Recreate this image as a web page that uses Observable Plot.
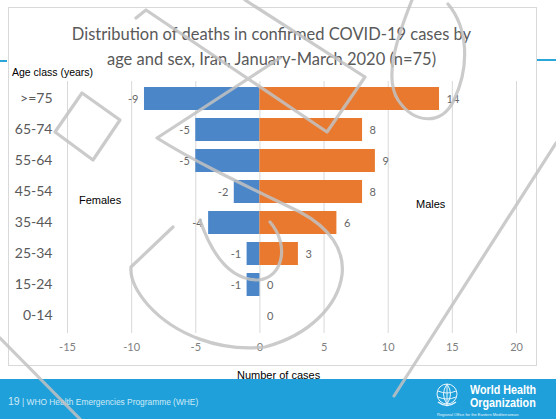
<!DOCTYPE html>
<html>
<head>
<meta charset="utf-8">
<script src="https://cdn.jsdelivr.net/npm/d3@7"></script>
<script src="https://cdn.jsdelivr.net/npm/@observablehq/plot@0.6"></script>
<style>
  html, body { margin: 0; padding: 0; background: #fff; }
  #slide { position: relative; width: 556px; height: 419px; overflow: hidden; background: #fff;
           font-family: "Liberation Sans", Arial, sans-serif; }
  .abs { position: absolute; white-space: nowrap; line-height: 1; }
  #box { left: 8px; top: 7px; width: 527px; height: 357px; border: 1px solid #d9d9d9; }
  .rule { position: absolute; height: 2px; background: #2ba6d8; }
  #title { left: 0; width: 543px; top: 22px; text-align: center; font-family: Lato, "Open Sans", sans-serif;
           font-size: 16.5px; line-height: 25px; color: #595959; }
  #plot { position: absolute; left: 0; top: 0; }
  .note { font-size: 11px; color: #000; }
  #footer { position: absolute; left: 0; top: 379px; width: 556px; height: 40px; background: #1fa0da; }
  #footText { left: 8px; top: 17px; font-size: 8.4px; color: #cfeaf7; }
  #footText b { font-size: 10.5px; font-weight: normal; }
  #who1, #who2 { left: 470px; font-weight: bold; color: #fff; font-size: 12.5px; transform: scaleX(0.86); transform-origin: left; }
  #who1 { top: 4.5px; } #who2 { top: 18px; }
  #who3 { left: 437px; top: 34px; font-size: 4px; color: #e6f4fb; }
  #mark { position: absolute; left: 0; top: 0; pointer-events: none; }
</style>
</head>
<body>
<div id="slide">
  <div class="rule" style="left:0;top:60px;width:7px;"></div>
  <div class="rule" style="left:537px;top:59px;width:19px;"></div>
  <div id="box" class="abs"></div>
  <div id="title" class="abs">Distribution of deaths in confirmed COVID-19 cases by<br>age and sex, Iran, January-March 2020 (n=75)</div>
  <div id="plot"></div>
  <div class="abs note" style="left:12px;top:67px;font-size:10.5px;">Age class (years)</div>
  <div class="abs note" style="left:79px;top:195px;">Females</div>
  <div class="abs note" style="left:416px;top:199px;">Males</div>
  <div class="abs note" style="left:237px;top:370px;">Number of cases</div>
  <div id="footer">
    <div id="footText" class="abs"><b>19</b> | WHO Health Emergencies Programme (WHE)</div>
    <svg style="position:absolute;left:435px;top:3px;" width="24" height="28" viewBox="0 0 24 28">
      <g fill="none" stroke="#e8f5fc" stroke-width="1">
        <ellipse cx="12" cy="12" rx="10" ry="10"/>
        <path d="M12 2 V23 M3 9 Q12 13 21 9 M3 15 Q12 19 21 15 M12 2 Q5 12 12 22 M12 2 Q19 12 12 22"/>
        <path d="M3 20 Q12 27 21 20" stroke-width="1.4"/>
      </g>
    </svg>
    <div id="who1" class="abs">World Health</div>
    <div id="who2" class="abs">Organization</div>
    <div id="who3" class="abs">Regional Office for the Eastern Mediterranean</div>
  </div>
  <!-- hand-drawn watermark strokes over the slide -->
  <svg id="mark" width="556" height="419" viewBox="0 0 556 419">
    <g fill="none" stroke="#c2c2c2" stroke-width="3.2" stroke-linejoin="round" stroke-linecap="round" opacity="0.85">
      <path d="M82,93 L120,120 L93,160 L55,132 Z"/>
      <path d="M136,18 L146,10 L327,132 L365,77 L245,0"/>
      <path d="M280,58 L157,138 C200,165 255,190 300,212 C330,228 345,250 342,275 C338,305 310,335 265,347 C220,352 175,335 148,305 C135,290 130,278 131,267 L173,227"/>
      <path d="M200,220 C212,255 230,280 258,280 C283,278 290,245 270,222"/>
      <path d="M412,0 C396,40 384,78 398,100 C414,124 442,126 454,100 C470,66 468,28 448,4"/>
      <path d="M556,143 L394,396"/>
      <path d="M0,338 L80,419"/>
    </g>
  </svg>
</div>
<script>
// Deaths among confirmed COVID-19 cases, Iran, Jan–Mar 2020, by age class and sex.
// Female counts are stored as negatives so they extend to the left of zero.
const ageClasses = [">=75", "65-74", "55-64", "45-54", "35-44", "25-34", "15-24", "0-14"];
const femaleDeaths = [-9, -5, -5, -2, -4, -1, -1, 0];
const maleDeaths = [14, 8, 9, 8, 6, 3, 0, 0];
const xTicks = [-15, -10, -5, 0, 5, 10, 15, 20];
const sexes = ["Females", "Males"];
const sexColors = ["#4a86c8", "#e9792f"];

const rows = ageClasses.flatMap((age, i) => [
  {age, sex: "Females", value: femaleDeaths[i]},
  {age, sex: "Males", value: maleDeaths[i]}
]);
const femaleRows = rows.filter(d => d.sex === "Females" && d.value !== 0);
const maleRows = rows.filter(d => d.sex === "Males");

const labelFont = "Lato, 'Open Sans', sans-serif";

const chart = Plot.plot({
  width: 556,
  height: 380,
  marginLeft: 67,
  marginRight: 40,
  marginTop: 81,
  marginBottom: 47,
  style: {background: "transparent", fontFamily: labelFont},
  x: {domain: [-15, 20], label: null},
  y: {domain: ageClasses, paddingInner: 0.27, paddingOuter: 0.135, label: null},
  color: {domain: sexes, range: sexColors},
  marks: [
    Plot.ruleX(xTicks, {stroke: "#d9d9d9", strokeWidth: 1}),
    Plot.barX(rows, {x1: d => 0, x2: "value", y: "age", fill: "sex"}),
    Plot.text(femaleRows, {x: "value", y: "age", text: d => String(d.value), textAnchor: "end",
      dx: -6, fill: "#666", fontSize: 11}),
    Plot.text(maleRows, {x: "value", y: "age", text: d => String(d.value), textAnchor: "start",
      dx: 7, fill: "#666", fontSize: 11}),
    Plot.axisX({ticks: xTicks, tickSize: 0, tickPadding: 10, fontSize: 11, color: "#808080",
      tickFormat: d => String(d), label: null}),
    Plot.axisY({tickSize: 0, tickPadding: 15, fontSize: 14, color: "#595959", label: null})
  ]
});
document.getElementById("plot").appendChild(chart);
</script>
</body>
</html>
